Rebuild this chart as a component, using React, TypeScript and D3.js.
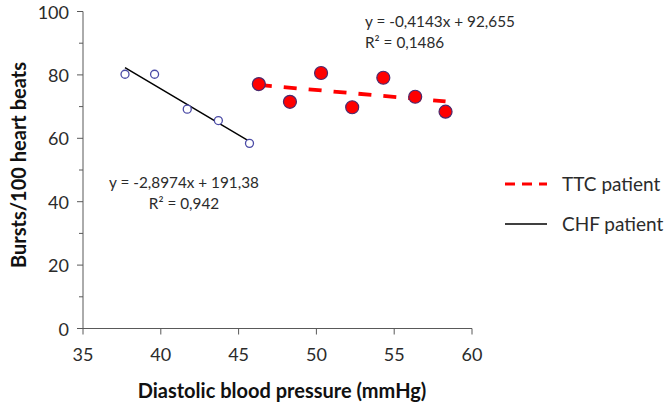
import * as d3 from 'd3';

// Diastolic blood pressure (mmHg) vs bursts/100 heart beats
const chfPressure = [37.7, 39.6, 41.7, 43.7, 45.7];
const chfBursts = [80.2, 80.2, 69.2, 65.6, 58.4];

const ttcPressure = [46.3, 48.3, 50.3, 52.3, 54.3, 56.35, 58.3];
const ttcBursts = [77.1, 71.5, 80.6, 69.8, 79.1, 73.1, 68.4];

const xTicks = [35, 40, 45, 50, 55, 60];
const yTicks = [0, 20, 40, 60, 80, 100];
const yMinorTicks = [10, 30, 50, 70, 90];

const chfLabel = ['y = -2,8974x + 191,38', 'R² = 0,942'];
const ttcLabel = ['y = -0,4143x + 92,655', 'R² = 0,1486'];
const legendNames = ['TTC patient', 'CHF patient'];

const font = 'Lato, "Open Sans", sans-serif';

// least squares fit, returns endpoints over the data range
function fit(xs: number[], ys: number[]) {
  const mx = d3.mean(xs)!;
  const my = d3.mean(ys)!;
  const sxy = d3.sum(xs, (x, i) => (x - mx) * (ys[i] - my));
  const sxx = d3.sum(xs, (x) => (x - mx) ** 2);
  const b = sxy / sxx;
  const a = my - b * mx;
  const [x0, x1] = d3.extent(xs) as [number, number];
  return [
    [x0, a + b * x0],
    [x1, a + b * x1],
  ];
}

export default function App() {
  const width = 672;
  const height = 406;

  const x = d3.scaleLinear().domain([35, 60]).range([83, 472]);
  const y = d3.scaleLinear().domain([0, 100]).range([328.5, 11.5]);

  const line = d3
    .line<number[]>()
    .x((d) => x(d[0]))
    .y((d) => y(d[1]));

  const chfFit = fit(chfPressure, chfBursts);
  const ttcFit = fit(ttcPressure, ttcBursts);

  const axisColor = '#595959';
  const textColor = '#2b2b2b';

  return (
    <svg
      width={width}
      height={height}
      style={{ position: 'absolute', left: 0, top: 0, background: '#fff' }}
      fontFamily={font}
    >
      {/* y axis */}
      <line x1={x(35)} x2={x(35)} y1={y(0)} y2={y(100)} stroke={axisColor} strokeWidth={1} />
      {yTicks.map((t) => (
        <g key={'y' + t}>
          <line x1={x(35) - 6} x2={x(35)} y1={y(t)} y2={y(t)} stroke={axisColor} />
          <text
            x={x(35) - 14}
            y={y(t)}
            textAnchor="end"
            dominantBaseline="central"
            fontSize={18}
            fill={textColor}
          >
            {t}
          </text>
        </g>
      ))}
      {yMinorTicks.map((t) => (
        <line key={'ym' + t} x1={x(35) - 4} x2={x(35)} y1={y(t)} y2={y(t)} stroke={axisColor} />
      ))}

      {/* x axis */}
      <line x1={x(35)} x2={x(60)} y1={y(0)} y2={y(0)} stroke={axisColor} strokeWidth={1} />
      {xTicks.map((t) => (
        <g key={'x' + t}>
          <line x1={x(t)} x2={x(t)} y1={y(0)} y2={y(0) + 6} stroke={axisColor} />
          <text
            x={x(t)}
            y={y(0) + 25}
            textAnchor="middle"
            dominantBaseline="central"
            fontSize={18}
            fill={textColor}
          >
            {t}
          </text>
        </g>
      ))}

      {/* axis titles */}
      <text
        x={282}
        y={390}
        textAnchor="middle"
        dominantBaseline="central"
        fontSize={20}
        fontWeight="bold"
        fill="#111"
      >
        Diastolic blood pressure (mmHg)
      </text>
      <text
        transform="translate(18,165) rotate(-90)"
        textAnchor="middle"
        dominantBaseline="central"
        fontSize={20}
        fontWeight="bold"
        fill="#111"
      >
        Bursts/100 heart beats
      </text>

      {/* trend lines */}
      <path d={line(chfFit) ?? ''} fill="none" stroke="#000" strokeWidth={1.5} />
      <path
        d={line(ttcFit) ?? ''}
        fill="none"
        stroke="#ff0000"
        strokeWidth={3.8}
        strokeDasharray="13 12"
      />

      {/* points */}
      {chfPressure.map((p, i) => (
        <circle
          key={'c' + i}
          cx={x(p)}
          cy={y(chfBursts[i])}
          r={4}
          fill="#fff"
          stroke="#4b4ba6"
          strokeWidth={1.3}
        />
      ))}
      {ttcPressure.map((p, i) => (
        <circle
          key={'t' + i}
          cx={x(p)}
          cy={y(ttcBursts[i])}
          r={6.5}
          fill="#ff0000"
          stroke="#4a2a6e"
          strokeWidth={1.2}
        />
      ))}

      {/* equations */}
      {chfLabel.map((s, i) => (
        <text
          key={'cl' + i}
          x={184}
          y={182 + i * 21}
          textAnchor="middle"
          dominantBaseline="central"
          fontSize={15.3}
          fill={textColor}
        >
          {s}
        </text>
      ))}
      {ttcLabel.map((s, i) => (
        <text
          key={'tl' + i}
          x={365}
          y={21 + i * 21}
          dominantBaseline="central"
          fontSize={15.3}
          fill={textColor}
        >
          {s}
        </text>
      ))}

      {/* legend */}
      <line x1={505} x2={547} y1={184} y2={184} stroke="#ff0000" strokeWidth={3} strokeDasharray="10 7" />
      <line x1={505} x2={547} y1={224} y2={224} stroke="#000" strokeWidth={1.5} />
      {legendNames.map((n, i) => (
        <text
          key={n}
          x={562}
          y={183 + i * 40}
          dominantBaseline="central"
          fontSize={19}
          fill={textColor}
        >
          {n}
        </text>
      ))}
    </svg>
  );
}
